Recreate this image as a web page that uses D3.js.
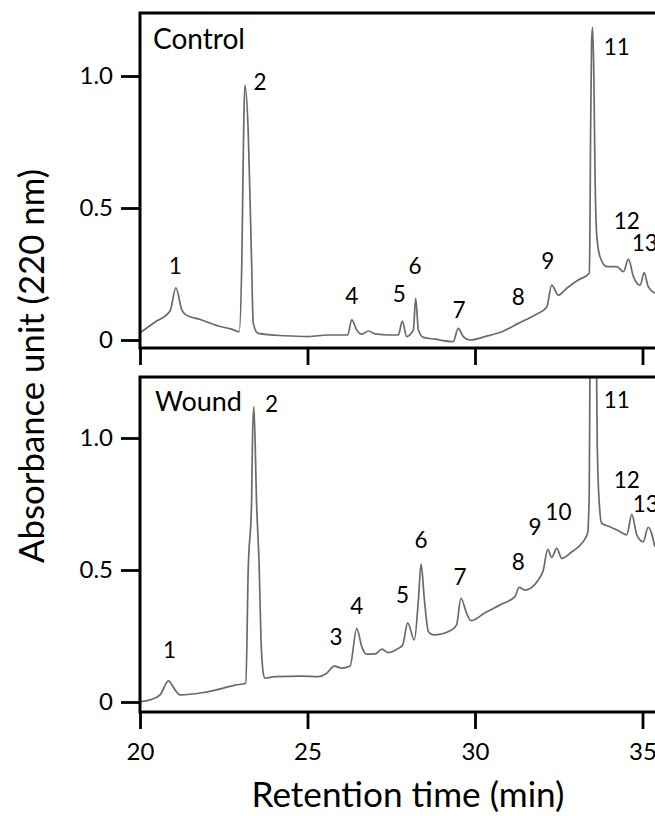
<!DOCTYPE html>
<html>
<head>
<meta charset="utf-8">
<script src="https://cdn.jsdelivr.net/npm/d3@7/dist/d3.min.js"></script>
<style>
  html, body { margin: 0; padding: 0; background: #fff; }
  svg { display: block; }
</style>
</head>
<body>
<svg id="chart" width="655" height="816"></svg>
<script>
// ---------------- DATA ----------------
// Control chromatogram (retention time in min, absorbance at 220 nm)
const controlTime = [20.00, 20.45, 20.90, 21.07, 21.25, 21.34, 21.84, 22.34, 22.74, 22.96,
  23.04, 23.07, 23.10, 23.13, 23.23, 23.28, 23.33, 23.38, 23.53, 24.33, 25.02, 25.62,
  26.20, 26.32, 26.47, 26.62, 26.82, 27.02, 27.41, 27.71, 27.83, 27.96, 28.16, 28.23,
  28.31, 28.46, 28.81, 29.35, 29.50, 29.65, 29.85, 30.30, 30.80, 31.29, 31.79, 32.14,
  32.29, 32.49, 32.74, 33.08, 33.41, 33.43, 33.45, 33.48, 33.51, 33.55, 33.58, 33.63,
  33.73, 33.93, 34.23, 34.43, 34.58, 34.73, 34.93, 35.05, 35.17, 35.37];
const controlAbs = [0.027, 0.068, 0.111, 0.198, 0.114, 0.098, 0.076, 0.053, 0.041, 0.031,
  0.303, 0.581, 0.841, 0.966, 0.789, 0.557, 0.303, 0.064, 0.025, 0.016, 0.013, 0.019,
  0.019, 0.076, 0.038, 0.022, 0.034, 0.023, 0.019, 0.019, 0.072, 0.013, 0.038, 0.158,
  0.038, 0.010, 0.003, -0.006, 0.044, 0.013, 0.000, 0.013, 0.031, 0.063, 0.095, 0.124,
  0.208, 0.170, 0.196, 0.227, 0.253, 0.405, 0.784, 1.125, 1.184, 0.985, 0.656, 0.405,
  0.316, 0.278, 0.278, 0.259, 0.306, 0.240, 0.208, 0.255, 0.202, 0.177];

// Wound chromatogram
const woundTime = [20.00, 20.30, 20.60, 20.85, 21.05, 21.19, 21.84, 22.34, 22.84, 23.16,
  23.23, 23.33, 23.36, 23.40, 23.48, 23.56, 23.61, 23.68, 23.73, 24.03, 24.83, 25.32,
  25.57, 25.80, 26.02, 26.27, 26.47, 26.62, 26.77, 27.02, 27.22, 27.41, 27.71, 27.84,
  27.99, 28.19, 28.31, 28.39, 28.49, 28.61, 28.76, 29.30, 29.45, 29.58, 29.75, 29.88,
  30.30, 30.80, 31.19, 31.32, 31.49, 31.89, 32.04, 32.17, 32.29, 32.44, 32.59, 32.89,
  33.19, 33.36, 33.41, 33.43, 33.48, 33.60, 33.63, 33.65, 33.71, 33.78, 34.03, 34.33,
  34.53, 34.68, 34.83, 35.02, 35.17, 35.37];
const woundAbs = [0.001, 0.008, 0.027, 0.080, 0.045, 0.027, 0.035, 0.048, 0.064, 0.071,
  0.500, 0.753, 1.005, 1.119, 0.753, 0.500, 0.247, 0.109, 0.090, 0.096, 0.098, 0.096,
  0.109, 0.136, 0.128, 0.136, 0.279, 0.209, 0.181, 0.182, 0.200, 0.187, 0.203, 0.216,
  0.300, 0.235, 0.386, 0.522, 0.386, 0.266, 0.254, 0.273, 0.292, 0.393, 0.336, 0.308,
  0.338, 0.371, 0.399, 0.434, 0.424, 0.462, 0.500, 0.578, 0.548, 0.582, 0.544, 0.569,
  0.601, 0.639, 0.790, 1.231, 1.900, 1.900, 1.231, 0.967, 0.753, 0.677, 0.664, 0.645,
  0.633, 0.711, 0.633, 0.607, 0.662, 0.588];

// Peak labels (text anchor positions in data units)
const controlPeaks  = ["1", "2", "4", "5", "6", "7", "8", "9", "11", "12", "13"];
const controlPeakT  = [21.05, 23.58, 26.32, 27.74, 28.21, 29.52, 31.29, 32.17, 34.23, 34.53, 35.07];
const controlPeakV  = [0.284, 0.978, 0.170, 0.177, 0.284, 0.114, 0.164, 0.303, 1.111, 0.452, 0.368];
const woundPeaks    = ["1", "2", "3", "4", "5", "6", "7", "8", "9", "10", "11", "12", "13"];
const woundPeakT    = [20.88, 23.93, 25.85, 26.47, 27.84, 28.39, 29.55, 31.29, 31.79, 32.49, 34.23, 34.53, 35.10];
const woundPeakV    = [0.197, 1.131, 0.247, 0.367, 0.409, 0.614, 0.475, 0.531, 0.664, 0.721, 1.144, 0.841, 0.753];

const xTicks = [20, 25, 30, 35];
const yTicks = [0, 0.5, 1.0];
const panelNames = ["Control", "Wound"];
const xTitle = "Retention time (min)";
const yTitle = "Absorbance unit (220 nm)";

// ---------------- LAYOUT ----------------
const W = 655, H = 816;
const FONT = "Lato, 'Open Sans', sans-serif";
const svg = d3.select("#chart");
svg.append("rect").attr("width", W).attr("height", H).attr("fill", "#fff");

const x = d3.scaleLinear().domain([20, 35]).range([140, 642.5]);
const frameLeft = 140, frameRight = 700;

const panels = [
  { name: panelNames[0], top: 13, bottom: 348, zeroY: 340,
    time: controlTime, abs: controlAbs, pk: controlPeaks, pkT: controlPeakT, pkV: controlPeakV,
    nameX: 153, nameY: 49, nameW: 92, showXLabels: false },
  { name: panelNames[1], top: 377, bottom: 712, zeroY: 702,
    time: woundTime, abs: woundAbs, pk: woundPeaks, pkT: woundPeakT, pkV: woundPeakV,
    nameX: 155, nameY: 411, nameW: 87, showXLabels: true }
];

function fitWidth(textSel, target) {
  const node = textSel.node();
  const base = parseFloat(textSel.attr("font-size"));
  const w = node.getComputedTextLength();
  if (w > 0) textSel.attr("font-size", (base * target / w).toFixed(2));
}

panels.forEach((p, i) => {
  const y = d3.scaleLinear().domain([0, 1]).range([p.zeroY, p.zeroY - 264]);
  const g = svg.append("g");

  const clipId = "clip" + i;
  svg.append("clipPath").attr("id", clipId)
    .append("rect")
    .attr("x", frameLeft).attr("y", p.top)
    .attr("width", W - frameLeft + 10).attr("height", p.bottom - p.top);

  // trace
  const pts = p.time.map((t, k) => ({ t, v: p.abs[k] }));
  const line = d3.line().x(d => x(d.t)).y(d => y(d.v)).curve(d3.curveMonotoneX);
  g.append("path")
    .datum(pts)
    .attr("clip-path", `url(#${clipId})`)
    .attr("fill", "none")
    .attr("stroke", "#6a6a6a")
    .attr("stroke-width", 1.7)
    .attr("stroke-linejoin", "round")
    .attr("d", line);

  // frame (right edge lies beyond the visible area)
  g.append("path")
    .attr("fill", "none")
    .attr("stroke", "#000")
    .attr("stroke-width", 3)
    .attr("d", `M${frameRight},${p.top}H${frameLeft}V${p.bottom}H${frameRight}`);

  // y axis
  const yAxis = d3.axisLeft(y).tickValues(yTicks)
    .tickFormat(d => d === 0 ? "0" : d3.format(".1f")(d))
    .tickSize(19).tickPadding(8);
  const ya = g.append("g").attr("transform", `translate(${frameLeft},0)`).call(yAxis);
  ya.select(".domain").remove();
  ya.selectAll(".tick line").attr("stroke", "#000").attr("stroke-width", 2.8);
  ya.selectAll(".tick text").attr("font-family", FONT).attr("font-size", 24).attr("fill", "#000");

  // x axis
  const xAxis = d3.axisBottom(x).tickValues(xTicks)
    .tickFormat(p.showXLabels ? d3.format("d") : () => "")
    .tickSize(17).tickPadding(14);
  const xa = g.append("g").attr("transform", `translate(0,${p.bottom})`).call(xAxis);
  xa.select(".domain").remove();
  xa.selectAll(".tick line").attr("stroke", "#000").attr("stroke-width", 2.8);
  xa.selectAll(".tick text").attr("font-family", FONT).attr("font-size", 24).attr("fill", "#000");

  // panel name
  const nm = g.append("text")
    .attr("x", p.nameX).attr("y", p.nameY)
    .attr("font-family", FONT).attr("font-size", 28).attr("fill", "#000")
    .text(p.name);
  fitWidth(nm, p.nameW);

  // peak labels
  g.selectAll("text.peak")
    .data(p.pk.map((lab, k) => ({ lab, t: p.pkT[k], v: p.pkV[k] })))
    .join("text")
    .attr("class", "peak")
    .attr("x", d => x(d.t))
    .attr("y", d => y(d.v))
    .attr("text-anchor", "middle")
    .attr("dominant-baseline", "central")
    .attr("font-family", FONT)
    .attr("font-size", 22.5)
    .attr("fill", "#000")
    .text(d => d.lab);
});

// axis titles
const xt = svg.append("text")
  .attr("x", 408).attr("y", 807)
  .attr("text-anchor", "middle")
  .attr("font-family", FONT).attr("font-size", 32).attr("fill", "#000")
  .text(xTitle);
fitWidth(xt, 313);

const yt = svg.append("text")
  .attr("transform", "translate(44,366) rotate(-90)")
  .attr("text-anchor", "middle")
  .attr("font-family", FONT).attr("font-size", 32).attr("fill", "#000")
  .text(yTitle);
fitWidth(yt, 394);
</script>
</body>
</html>
